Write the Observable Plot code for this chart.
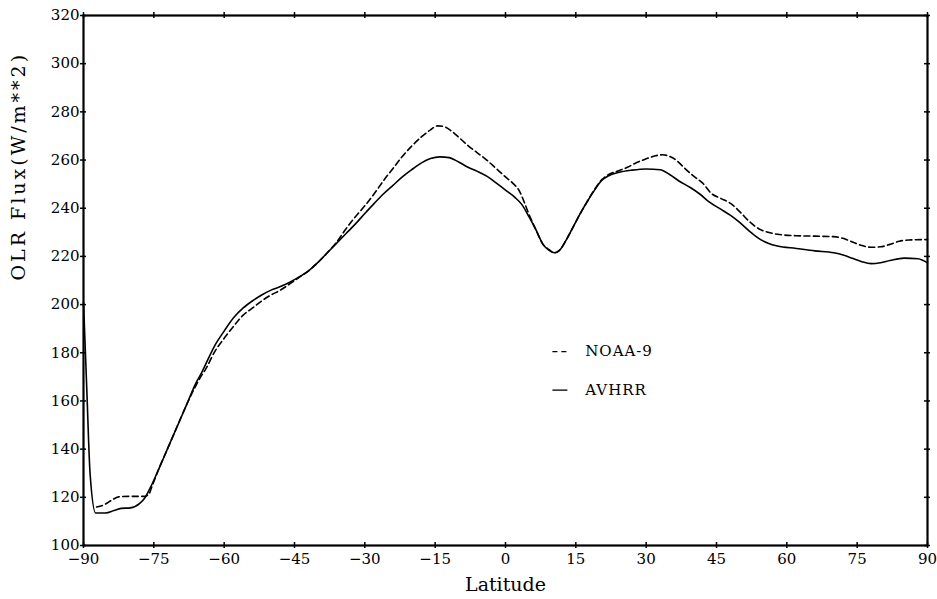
<!DOCTYPE html>
<html>
<head>
<meta charset="utf-8">
<script src="https://cdn.jsdelivr.net/npm/d3@7"></script>
<script src="https://cdn.jsdelivr.net/npm/@observablehq/plot@0.6"></script>
<style>
  html, body { margin: 0; padding: 0; background: #fff; }
  #chart svg { display: block; }
</style>
</head>
<body>
<div id="chart"></div>
<script>
// ---- data ----
const avhrrLat = [-90, -89.3, -88.6, -87.4, -85.3, -83.5, -82, -80, -78, -77, -75.5, -74, -72, -70, -68, -66, -65, -64, -62, -60, -58, -56, -54, -52, -50, -48, -46, -44, -42, -40, -38, -36, -34, -32, -30, -28, -26, -24, -22, -20, -18, -16, -14, -12, -10, -8, -6, -4, -2, 0, 2, 3.5, 5, 6.5, 8, 9.3, 10.5, 11.5, 13, 14.5, 16, 17.5, 19, 20.5, 22, 24, 27, 30, 33, 35, 37, 39.5, 41.5, 43.5, 46, 48, 50, 52, 54, 56, 58, 62, 66, 70, 72, 74, 76, 78, 80, 82, 85, 88, 90];
const avhrrVal = [201, 165, 130, 113.5, 113.5, 114.5, 115.4, 115.6, 117.5, 119.5, 125, 131.5, 140.5, 149.5, 158.5, 167.5, 171, 175, 183, 189, 194.5, 198.5, 201.5, 204, 206, 207.5, 209.3, 211.5, 214, 217.5, 221.5, 225.5, 229.5, 233.5, 237.8, 242, 246, 249.5, 253, 256, 258.7, 260.6, 261.3, 261, 259.2, 257, 255.3, 253.3, 250.5, 247.5, 244.5, 241.5, 236.5, 231, 225, 222.5, 221.5, 222.5, 227, 232.5, 238, 243, 247.5, 251.5, 253.5, 254.8, 255.8, 256.3, 256, 254, 251.3, 248.5, 245.8, 242.5, 239.5, 237, 234, 230.5, 227.5, 225.5, 224.3, 223.3, 222.3, 221.5, 220.6, 219.2, 217.8, 217, 217.4, 218.3, 219.3, 219, 217.3];

const noaaLat = [-87.2, -85.5, -84, -82.5, -80, -77, -76, -75.5, -74, -72, -70, -68, -66, -65, -64, -62, -60, -58, -56, -54, -52, -50, -48, -46, -44, -42, -40, -38, -36, -34, -32, -30, -28, -26, -24, -22, -20, -18, -16, -14.5, -13, -11.5, -10, -8, -6, -4, -2, 0, 1.5, 3, 4, 5, 6.5, 8, 9.3, 10.5, 11.5, 13, 14.5, 16, 17.5, 19, 20.5, 22, 24, 26, 28, 30, 32, 33.5, 35, 36.5, 38, 40, 42, 44, 46, 48, 50, 52, 54, 56, 58, 62, 66, 70, 72, 74, 76, 78, 80, 82, 84, 86, 90];
const noaaVal = [116, 117, 118.8, 120.2, 120.4, 120.4, 121.5, 124, 131.5, 140.5, 149.5, 158.5, 166.5, 170, 173, 180.5, 186, 191, 195.5, 198.5, 201.5, 204, 206, 208.6, 211.3, 214, 217.5, 221.5, 226, 231.5, 236.5, 241, 246, 251.5, 256.5, 261.5, 265.8, 269.5, 272.5, 274.2, 273.8, 272, 269.5, 266, 263, 260, 256.5, 253, 250.5, 247, 242.5, 237.5, 231, 225, 222.8, 221.5, 222.5, 227, 232.5, 238, 243, 247.8, 251.8, 254, 255.5, 257, 259, 260.5, 261.8, 262.2, 261.5, 259.8, 257, 253.5, 250.5, 246, 244, 242, 238.5, 234.5, 231.5, 230, 229.2, 228.6, 228.4, 228.2, 227.5, 226, 224.5, 223.8, 224, 225, 226.3, 226.8, 227];

const xTicks = [-90, -75, -60, -45, -30, -15, 0, 15, 30, 45, 60, 75, 90];
const yTicks = [100, 120, 140, 160, 180, 200, 220, 240, 260, 280, 300, 320];
const seriesNames = ["NOAA-9", "AVHRR"];
const xLabel = "Latitude";
const yLabel = "OLR Flux(W/m**2)";

// ---- build tables ----
const avhrr = avhrrLat.map((lat, i) => ({lat, v: avhrrVal[i]}));
const noaa = noaaLat.map((lat, i) => ({lat, v: noaaVal[i]}));
const legendRows = seriesNames.map((name, i) => ({name, i}));

// ---- layout ----
const W = 937, H = 599;
const mL = 83, mR = 10, mT = 15, mB = 54;
const fW = W - mL - mR, fH = H - mT - mB;
const serif = "'DejaVu Serif', 'Liberation Serif', serif";
const legendX1 = 10, legendX2 = 13.2, legendTextX = 17, legendTopY = 180.5, legendStep = 16;
const legendY = d => legendTopY - d.i * legendStep;

const chart = Plot.plot({
  width: W, height: H,
  marginLeft: mL, marginRight: mR, marginTop: mT, marginBottom: mB,
  x: {domain: [-90, 90], ticks: xTicks},
  y: {domain: [100, 320], ticks: yTicks},
  marks: [
    Plot.axisX(xTicks, {tickSize: 3, tickPadding: 5, label: null, fontSize: 15, fill: "#000", tickFormat: d => d < 0 ? "\u2212" + Math.abs(d) : String(d), stroke: "#000", strokeWidth: 1.5}),
    Plot.axisY(yTicks, {tickSize: 3, tickPadding: 1, label: null, fontSize: 15, fill: "#000", stroke: "#000", strokeWidth: 1.5}),
    // inner / crossing ticks on all four sides
    Plot.tickY(yTicks, {y: d => d, insetLeft: 0, insetRight: fW - 3, stroke: "#000", strokeWidth: 1.5}),
    Plot.tickY(yTicks, {y: d => d, insetLeft: fW - 3, insetRight: -3, stroke: "#000", strokeWidth: 1.5}),
    Plot.tickX(xTicks, {x: d => d, insetTop: fH - 3, insetBottom: 0, stroke: "#000", strokeWidth: 1.5}),
    Plot.tickX(xTicks, {x: d => d, insetTop: -3, insetBottom: fH - 3, stroke: "#000", strokeWidth: 1.5}),
    Plot.frame({stroke: "#000", strokeWidth: 2.2}),
    Plot.line(noaa, {x: "lat", y: "v", stroke: "#000", strokeWidth: 1.6, strokeDasharray: "6,3.5", curve: "monotone-x"}),
    Plot.line(avhrr, {x: "lat", y: "v", stroke: "#000", strokeWidth: 1.6, curve: "monotone-x"}),
    // legend
    Plot.link(legendRows.filter(d => d.i === 0), {x1: legendX1, x2: legendX2, y1: legendY, y2: legendY,
      stroke: "#000", strokeWidth: 1.3, strokeDasharray: "5,4"}),
    Plot.link(legendRows.filter(d => d.i === 1), {x1: legendX1, x2: legendX2, y1: legendY, y2: legendY,
      stroke: "#000", strokeWidth: 1.3}),
    Plot.text(legendRows, {x: legendTextX, y: legendY, text: "name", textAnchor: "start", fontSize: 15, fill: "#000"}),
    // axis titles
    Plot.text([xLabel], {text: d => d, frameAnchor: "bottom", dy: 45, fontSize: 19, fill: "#000"}),
    Plot.text([yLabel], {text: d => d, frameAnchor: "left", dx: -65, rotate: -90, fontSize: 19, fill: "#000"})
  ]
});
// serif face on every text node (as in the reference)
chart.style.fontFamily = serif;
chart.style.background = "#fff";
chart.querySelectorAll("g, text, tspan").forEach(el => {
  el.removeAttribute("font-family");
  el.style.fontFamily = serif;
});
chart.querySelectorAll("text").forEach(t => {
  if (t.textContent === yLabel) t.style.letterSpacing = "3px";
  if (seriesNames.includes(t.textContent)) t.style.letterSpacing = "1px";
});
document.getElementById("chart").appendChild(chart);
</script>
</body>
</html>
